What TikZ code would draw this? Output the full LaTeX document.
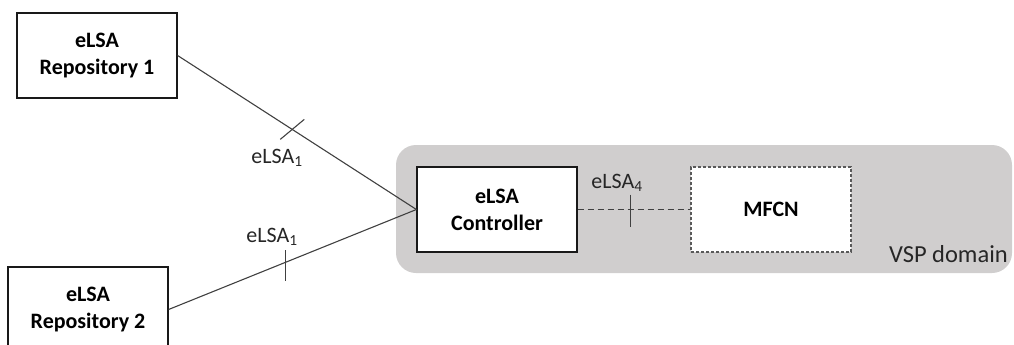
\documentclass[tikz,border=0pt]{standalone}
\usepackage{fontspec}
\setmainfont{Carlito}
\usepackage{tikz}
\usetikzlibrary{positioning}
\definecolor{domaingray}{HTML}{D0CECE}
\definecolor{linegray}{HTML}{404040}
\definecolor{dashgray}{HTML}{595959}

\begin{document}
\begin{tikzpicture}[x=1pt,y=-1pt,on grid,every text node part/.style={align=center},
  box/.style={draw=black!90,line width=1.2pt,fill=white,minimum width=160pt,
    minimum height=85pt,inner sep=0pt,font=\fontsize{22}{27}\selectfont\bfseries},
  iface/.style={font=\fontsize{22}{25}\selectfont,text=black!85,inner sep=0pt},
  link/.style={linegray,line width=1.1pt}]

  \useasboundingbox (0,0) rectangle (1014,345);

  % domain
  \fill[domaingray,rounded corners=20pt] (396,145) rectangle (1012,273);
  \node[anchor=base east,font=\fontsize{24.5}{28}\selectfont,text=black!85,inner sep=0pt]
    (vsp) at (1008,262) {VSP domain};

  % boxes
  \node[box] (rep1) at (97,55.5) {eLSA\\Repository 1};
  \node[box] (rep2) at (88,309.5) {eLSA\\Repository 2};
  \node[box] (ctrl) at (497,209.5) {eLSA\\Controller};
  \node[box,draw=dashgray,dash pattern=on 3pt off 2pt] (mfcn) [right=274pt of ctrl] {MFCN};

  % eLSA1 links
  \draw[link] (rep1.east) -- coordinate[pos=.48] (t1) (ctrl.west);
  \draw[link] (t1) ++(-12,10) -- ++(24,-20);
  \node[iface] (l1) at (277,158) {eLSA\textsubscript{1}};

  \draw[link] (rep2.east) -- coordinate[pos=.472] (t2) (ctrl.west);
  \draw[link] (t2) ++(0,-12) -- ++(0,31);
  \node[iface] (l2) at (272,237) {eLSA\textsubscript{1}};

  % eLSA4 link
  \draw[link,line width=1.3pt,dash pattern=on 6pt off 4pt] (ctrl.east) -- coordinate[pos=.465] (t4) (mfcn.west);
  \draw[link] (t4) ++(0,-15) -- ++(0,32);
  \node[iface] (l4) at (617,183) {eLSA\textsubscript{4}};

\end{tikzpicture}
\end{document}
